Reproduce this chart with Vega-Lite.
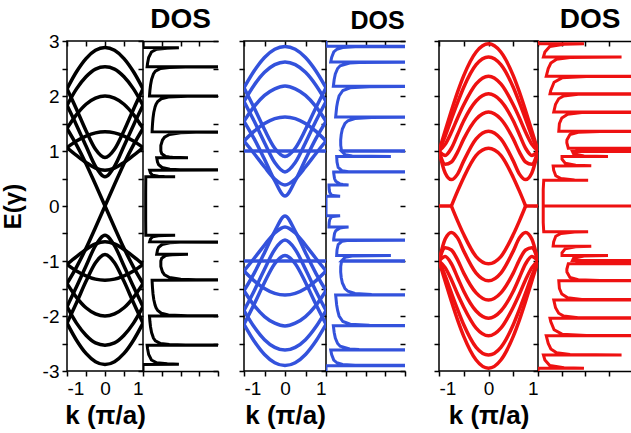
{
"$schema": "https://vega.github.io/schema/vega-lite/v6.json",
"padding": {"left": 0, "right": 0, "top": 6, "bottom": 0},
"config": {
  "font": "Liberation Sans",
  "view": {"stroke": "#000", "strokeWidth": 1.5},
  "axis": {"domain": false, "grid": false, "tickColor": "#000", "tickWidth": 1.5, "labelColor": "#000", "labelFont": "Liberation Sans", "labelFontSize": 19, "titleColor": "#000", "titleFont": "Liberation Sans"},
  "title": {"font": "Liberation Sans", "color": "#000"}
},
"datasets": {
"b1": [
{"b":"1","k":-1,"E":2.13},{"b":"1","k":-0.75,"E":2.44},{"b":"1","k":-0.5,"E":2.68},{"b":"1","k":-0.25,"E":2.83},{"b":"1","k":0,"E":2.88},{"b":"1","k":0.25,"E":2.83},{"b":"1","k":0.5,"E":2.68},{"b":"1","k":0.75,"E":2.44},{"b":"1","k":1,"E":2.13},
{"b":"2","k":-1,"E":2.13},{"b":"2","k":-0.75,"E":1.76},{"b":"2","k":-0.5,"E":1.37},{"b":"2","k":-0.25,"E":1.03},{"b":"2","k":0,"E":0.88},{"b":"2","k":0.25,"E":1.03},{"b":"2","k":0.5,"E":1.37},{"b":"2","k":0.75,"E":1.76},{"b":"2","k":1,"E":2.13},
{"b":"3","k":-1,"E":1.83},{"b":"3","k":-0.75,"E":2.13},{"b":"3","k":-0.5,"E":2.35},{"b":"3","k":-0.25,"E":2.49},{"b":"3","k":0,"E":2.53},{"b":"3","k":0.25,"E":2.49},{"b":"3","k":0.5,"E":2.35},{"b":"3","k":0.75,"E":2.13},{"b":"3","k":1,"E":1.83},
{"b":"4","k":-1,"E":1.83},{"b":"4","k":-0.75,"E":1.47},{"b":"4","k":-0.5,"E":1.09},{"b":"4","k":-0.25,"E":0.72},{"b":"4","k":0,"E":0.53},{"b":"4","k":0.25,"E":0.72},{"b":"4","k":0.5,"E":1.09},{"b":"4","k":0.75,"E":1.47},{"b":"4","k":1,"E":1.83},
{"b":"5","k":-1,"E":1.41},{"b":"5","k":-0.75,"E":1.66},{"b":"5","k":-0.5,"E":1.85},{"b":"5","k":-0.25,"E":1.96},{"b":"5","k":0,"E":2.0},{"b":"5","k":0.25,"E":1.96},{"b":"5","k":0.5,"E":1.85},{"b":"5","k":0.75,"E":1.66},{"b":"5","k":1,"E":1.41},
{"b":"6a","k":-1,"E":1.41},{"b":"6a","k":-0.75,"E":1.11},{"b":"6a","k":-0.5,"E":0.77},{"b":"6a","k":-0.25,"E":0.39},{"b":"6a","k":0,"E":0},
{"b":"6b","k":0,"E":0},{"b":"6b","k":0.25,"E":0.39},{"b":"6b","k":0.5,"E":0.77},{"b":"6b","k":0.75,"E":1.11},{"b":"6b","k":1,"E":1.41},
{"b":"7","k":-1,"E":1.06},{"b":"7","k":-0.75,"E":1.18},{"b":"7","k":-0.5,"E":1.27},{"b":"7","k":-0.25,"E":1.33},{"b":"7","k":0,"E":1.35},{"b":"7","k":0.25,"E":1.33},{"b":"7","k":0.5,"E":1.27},{"b":"7","k":0.75,"E":1.18},{"b":"7","k":1,"E":1.06},
{"b":"8","k":-1,"E":1.06},{"b":"8","k":-0.75,"E":0.92},{"b":"8","k":-0.5,"E":0.79},{"b":"8","k":-0.25,"E":0.69},{"b":"8","k":0,"E":0.65},{"b":"8","k":0.25,"E":0.69},{"b":"8","k":0.5,"E":0.79},{"b":"8","k":0.75,"E":0.92},{"b":"8","k":1,"E":1.06},
{"b":"m1","k":-1,"E":-2.13},{"b":"m1","k":-0.75,"E":-2.44},{"b":"m1","k":-0.5,"E":-2.68},{"b":"m1","k":-0.25,"E":-2.83},{"b":"m1","k":0,"E":-2.88},{"b":"m1","k":0.25,"E":-2.83},{"b":"m1","k":0.5,"E":-2.68},{"b":"m1","k":0.75,"E":-2.44},{"b":"m1","k":1,"E":-2.13},
{"b":"m2","k":-1,"E":-2.13},{"b":"m2","k":-0.75,"E":-1.76},{"b":"m2","k":-0.5,"E":-1.37},{"b":"m2","k":-0.25,"E":-1.03},{"b":"m2","k":0,"E":-0.88},{"b":"m2","k":0.25,"E":-1.03},{"b":"m2","k":0.5,"E":-1.37},{"b":"m2","k":0.75,"E":-1.76},{"b":"m2","k":1,"E":-2.13},
{"b":"m3","k":-1,"E":-1.83},{"b":"m3","k":-0.75,"E":-2.13},{"b":"m3","k":-0.5,"E":-2.35},{"b":"m3","k":-0.25,"E":-2.49},{"b":"m3","k":0,"E":-2.53},{"b":"m3","k":0.25,"E":-2.49},{"b":"m3","k":0.5,"E":-2.35},{"b":"m3","k":0.75,"E":-2.13},{"b":"m3","k":1,"E":-1.83},
{"b":"m4","k":-1,"E":-1.83},{"b":"m4","k":-0.75,"E":-1.47},{"b":"m4","k":-0.5,"E":-1.09},{"b":"m4","k":-0.25,"E":-0.72},{"b":"m4","k":0,"E":-0.53},{"b":"m4","k":0.25,"E":-0.72},{"b":"m4","k":0.5,"E":-1.09},{"b":"m4","k":0.75,"E":-1.47},{"b":"m4","k":1,"E":-1.83},
{"b":"m5","k":-1,"E":-1.41},{"b":"m5","k":-0.75,"E":-1.66},{"b":"m5","k":-0.5,"E":-1.85},{"b":"m5","k":-0.25,"E":-1.96},{"b":"m5","k":0,"E":-2.0},{"b":"m5","k":0.25,"E":-1.96},{"b":"m5","k":0.5,"E":-1.85},{"b":"m5","k":0.75,"E":-1.66},{"b":"m5","k":1,"E":-1.41},
{"b":"m6a","k":-1,"E":-1.41},{"b":"m6a","k":-0.75,"E":-1.11},{"b":"m6a","k":-0.5,"E":-0.77},{"b":"m6a","k":-0.25,"E":-0.39},{"b":"m6a","k":0,"E":0},
{"b":"m6b","k":0,"E":0},{"b":"m6b","k":0.25,"E":-0.39},{"b":"m6b","k":0.5,"E":-0.77},{"b":"m6b","k":0.75,"E":-1.11},{"b":"m6b","k":1,"E":-1.41},
{"b":"m7","k":-1,"E":-1.06},{"b":"m7","k":-0.75,"E":-1.18},{"b":"m7","k":-0.5,"E":-1.27},{"b":"m7","k":-0.25,"E":-1.33},{"b":"m7","k":0,"E":-1.35},{"b":"m7","k":0.25,"E":-1.33},{"b":"m7","k":0.5,"E":-1.27},{"b":"m7","k":0.75,"E":-1.18},{"b":"m7","k":1,"E":-1.06},
{"b":"m8","k":-1,"E":-1.06},{"b":"m8","k":-0.75,"E":-0.92},{"b":"m8","k":-0.5,"E":-0.79},{"b":"m8","k":-0.25,"E":-0.69},{"b":"m8","k":0,"E":-0.65},{"b":"m8","k":0.25,"E":-0.69},{"b":"m8","k":0.5,"E":-0.79},{"b":"m8","k":0.75,"E":-0.92},{"b":"m8","k":1,"E":-1.06}
],
"b2": [
{"b":"1","k":-1,"E":2.15},{"b":"1","k":-0.75,"E":2.46},{"b":"1","k":-0.5,"E":2.7},{"b":"1","k":-0.25,"E":2.85},{"b":"1","k":0,"E":2.9},{"b":"1","k":0.25,"E":2.85},{"b":"1","k":0.5,"E":2.7},{"b":"1","k":0.75,"E":2.46},{"b":"1","k":1,"E":2.15},
{"b":"2","k":-1,"E":2.15},{"b":"2","k":-0.75,"E":1.78},{"b":"2","k":-0.5,"E":1.39},{"b":"2","k":-0.25,"E":1.05},{"b":"2","k":0,"E":0.9},{"b":"2","k":0.25,"E":1.05},{"b":"2","k":0.5,"E":1.39},{"b":"2","k":0.75,"E":1.78},{"b":"2","k":1,"E":2.15},
{"b":"3","k":-1,"E":1.9},{"b":"3","k":-0.75,"E":2.2},{"b":"3","k":-0.5,"E":2.43},{"b":"3","k":-0.25,"E":2.57},{"b":"3","k":0,"E":2.62},{"b":"3","k":0.25,"E":2.57},{"b":"3","k":0.5,"E":2.43},{"b":"3","k":0.75,"E":2.2},{"b":"3","k":1,"E":1.9},
{"b":"4","k":-1,"E":1.9},{"b":"4","k":-0.75,"E":1.54},{"b":"4","k":-0.5,"E":1.15},{"b":"4","k":-0.25,"E":0.79},{"b":"4","k":0,"E":0.62},{"b":"4","k":0.25,"E":0.79},{"b":"4","k":0.5,"E":1.15},{"b":"4","k":0.75,"E":1.54},{"b":"4","k":1,"E":1.9},
{"b":"5","k":-1,"E":1.54},{"b":"5","k":-0.75,"E":1.81},{"b":"5","k":-0.5,"E":2.01},{"b":"5","k":-0.25,"E":2.13},{"b":"5","k":0,"E":2.18},{"b":"5","k":0.25,"E":2.13},{"b":"5","k":0.5,"E":2.01},{"b":"5","k":0.75,"E":1.81},{"b":"5","k":1,"E":1.54},
{"b":"6","k":-1,"E":1.54},{"b":"6","k":-0.75,"E":1.22},{"b":"6","k":-0.5,"E":0.85},{"b":"6","k":-0.25,"E":0.46},{"b":"6","k":0,"E":0.18},{"b":"6","k":0.25,"E":0.46},{"b":"6","k":0.5,"E":0.85},{"b":"6","k":0.75,"E":1.22},{"b":"6","k":1,"E":1.54},
{"b":"7","k":-1,"E":1.18},{"b":"7","k":-0.75,"E":1.36},{"b":"7","k":-0.5,"E":1.5},{"b":"7","k":-0.25,"E":1.59},{"b":"7","k":0,"E":1.62},{"b":"7","k":0.25,"E":1.59},{"b":"7","k":0.5,"E":1.5},{"b":"7","k":0.75,"E":1.36},{"b":"7","k":1,"E":1.18},
{"b":"8","k":-1,"E":1.18},{"b":"8","k":-0.75,"E":0.95},{"b":"8","k":-0.5,"E":0.71},{"b":"8","k":-0.25,"E":0.49},{"b":"8","k":0,"E":0.38},{"b":"8","k":0.25,"E":0.49},{"b":"8","k":0.5,"E":0.71},{"b":"8","k":0.75,"E":0.95},{"b":"8","k":1,"E":1.18},
{"b":"9","k":-1,"E":1},{"b":"9","k":1,"E":1},
{"b":"m1","k":-1,"E":-2.15},{"b":"m1","k":-0.75,"E":-2.46},{"b":"m1","k":-0.5,"E":-2.7},{"b":"m1","k":-0.25,"E":-2.85},{"b":"m1","k":0,"E":-2.9},{"b":"m1","k":0.25,"E":-2.85},{"b":"m1","k":0.5,"E":-2.7},{"b":"m1","k":0.75,"E":-2.46},{"b":"m1","k":1,"E":-2.15},
{"b":"m2","k":-1,"E":-2.15},{"b":"m2","k":-0.75,"E":-1.78},{"b":"m2","k":-0.5,"E":-1.39},{"b":"m2","k":-0.25,"E":-1.05},{"b":"m2","k":0,"E":-0.9},{"b":"m2","k":0.25,"E":-1.05},{"b":"m2","k":0.5,"E":-1.39},{"b":"m2","k":0.75,"E":-1.78},{"b":"m2","k":1,"E":-2.15},
{"b":"m3","k":-1,"E":-1.9},{"b":"m3","k":-0.75,"E":-2.2},{"b":"m3","k":-0.5,"E":-2.43},{"b":"m3","k":-0.25,"E":-2.57},{"b":"m3","k":0,"E":-2.62},{"b":"m3","k":0.25,"E":-2.57},{"b":"m3","k":0.5,"E":-2.43},{"b":"m3","k":0.75,"E":-2.2},{"b":"m3","k":1,"E":-1.9},
{"b":"m4","k":-1,"E":-1.9},{"b":"m4","k":-0.75,"E":-1.54},{"b":"m4","k":-0.5,"E":-1.15},{"b":"m4","k":-0.25,"E":-0.79},{"b":"m4","k":0,"E":-0.62},{"b":"m4","k":0.25,"E":-0.79},{"b":"m4","k":0.5,"E":-1.15},{"b":"m4","k":0.75,"E":-1.54},{"b":"m4","k":1,"E":-1.9},
{"b":"m5","k":-1,"E":-1.54},{"b":"m5","k":-0.75,"E":-1.81},{"b":"m5","k":-0.5,"E":-2.01},{"b":"m5","k":-0.25,"E":-2.13},{"b":"m5","k":0,"E":-2.18},{"b":"m5","k":0.25,"E":-2.13},{"b":"m5","k":0.5,"E":-2.01},{"b":"m5","k":0.75,"E":-1.81},{"b":"m5","k":1,"E":-1.54},
{"b":"m6","k":-1,"E":-1.54},{"b":"m6","k":-0.75,"E":-1.22},{"b":"m6","k":-0.5,"E":-0.85},{"b":"m6","k":-0.25,"E":-0.46},{"b":"m6","k":0,"E":-0.18},{"b":"m6","k":0.25,"E":-0.46},{"b":"m6","k":0.5,"E":-0.85},{"b":"m6","k":0.75,"E":-1.22},{"b":"m6","k":1,"E":-1.54},
{"b":"m7","k":-1,"E":-1.18},{"b":"m7","k":-0.75,"E":-1.36},{"b":"m7","k":-0.5,"E":-1.5},{"b":"m7","k":-0.25,"E":-1.59},{"b":"m7","k":0,"E":-1.62},{"b":"m7","k":0.25,"E":-1.59},{"b":"m7","k":0.5,"E":-1.5},{"b":"m7","k":0.75,"E":-1.36},{"b":"m7","k":1,"E":-1.18},
{"b":"m8","k":-1,"E":-1.18},{"b":"m8","k":-0.75,"E":-0.95},{"b":"m8","k":-0.5,"E":-0.71},{"b":"m8","k":-0.25,"E":-0.49},{"b":"m8","k":0,"E":-0.38},{"b":"m8","k":0.25,"E":-0.49},{"b":"m8","k":0.5,"E":-0.71},{"b":"m8","k":0.75,"E":-0.95},{"b":"m8","k":1,"E":-1.18},
{"b":"m9","k":-1,"E":-1},{"b":"m9","k":1,"E":-1}
],
"b3": [
{"b":"1","k":-1,"E":1},{"b":"1","k":-0.875,"E":1.37},{"b":"1","k":-0.75,"E":1.73},{"b":"1","k":-0.625,"E":2.07},{"b":"1","k":-0.5,"E":2.37},{"b":"1","k":-0.25,"E":2.8},{"b":"1","k":0,"E":2.95},{"b":"1","k":0.25,"E":2.8},{"b":"1","k":0.5,"E":2.37},{"b":"1","k":0.625,"E":2.07},{"b":"1","k":0.75,"E":1.73},{"b":"1","k":0.875,"E":1.37},{"b":"1","k":1,"E":1},
{"b":"2","k":-1,"E":1},{"b":"2","k":-0.875,"E":1.27},{"b":"2","k":-0.75,"E":1.58},{"b":"2","k":-0.625,"E":1.88},{"b":"2","k":-0.5,"E":2.16},{"b":"2","k":-0.25,"E":2.57},{"b":"2","k":0,"E":2.71},{"b":"2","k":0.25,"E":2.57},{"b":"2","k":0.5,"E":2.16},{"b":"2","k":0.625,"E":1.88},{"b":"2","k":0.75,"E":1.58},{"b":"2","k":0.875,"E":1.27},{"b":"2","k":1,"E":1},
{"b":"3","k":-1,"E":1},{"b":"3","k":-0.875,"E":1.12},{"b":"3","k":-0.75,"E":1.34},{"b":"3","k":-0.625,"E":1.6},{"b":"3","k":-0.5,"E":1.84},{"b":"3","k":-0.25,"E":2.22},{"b":"3","k":0,"E":2.36},{"b":"3","k":0.25,"E":2.22},{"b":"3","k":0.5,"E":1.84},{"b":"3","k":0.625,"E":1.6},{"b":"3","k":0.75,"E":1.34},{"b":"3","k":0.875,"E":1.12},{"b":"3","k":1,"E":1},
{"b":"4","k":-1,"E":1},{"b":"4","k":-0.875,"E":0.92},{"b":"4","k":-0.75,"E":1.05},{"b":"4","k":-0.625,"E":1.3},{"b":"4","k":-0.5,"E":1.55},{"b":"4","k":-0.25,"E":1.91},{"b":"4","k":0,"E":2.04},{"b":"4","k":0.25,"E":1.91},{"b":"4","k":0.5,"E":1.55},{"b":"4","k":0.625,"E":1.3},{"b":"4","k":0.75,"E":1.05},{"b":"4","k":0.875,"E":0.92},{"b":"4","k":1,"E":1},
{"b":"5","k":-1,"E":1},{"b":"5","k":-0.875,"E":0.76},{"b":"5","k":-0.75,"E":0.8},{"b":"5","k":-0.625,"E":0.98},{"b":"5","k":-0.5,"E":1.22},{"b":"5","k":-0.25,"E":1.58},{"b":"5","k":0,"E":1.71},{"b":"5","k":0.25,"E":1.58},{"b":"5","k":0.5,"E":1.22},{"b":"5","k":0.625,"E":0.98},{"b":"5","k":0.75,"E":0.8},{"b":"5","k":0.875,"E":0.76},{"b":"5","k":1,"E":1},
{"b":"6","k":-1,"E":1},{"b":"6","k":-0.875,"E":0.6},{"b":"6","k":-0.75,"E":0.48},{"b":"6","k":-0.625,"E":0.58},{"b":"6","k":-0.5,"E":0.82},{"b":"6","k":-0.25,"E":1.22},{"b":"6","k":0,"E":1.36},{"b":"6","k":0.25,"E":1.22},{"b":"6","k":0.5,"E":0.82},{"b":"6","k":0.625,"E":0.58},{"b":"6","k":0.75,"E":0.48},{"b":"6","k":0.875,"E":0.6},{"b":"6","k":1,"E":1},
{"b":"e","k":-0.75,"E":0},{"b":"e","k":-0.625,"E":0.27},{"b":"e","k":-0.5,"E":0.52},{"b":"e","k":-0.25,"E":0.92},{"b":"e","k":0,"E":1.05},{"b":"e","k":0.25,"E":0.92},{"b":"e","k":0.5,"E":0.52},{"b":"e","k":0.625,"E":0.27},{"b":"e","k":0.75,"E":0},
{"b":"fL","k":-1,"E":0},{"b":"fL","k":-0.75,"E":0},
{"b":"fR","k":0.75,"E":0},{"b":"fR","k":1,"E":0},
{"b":"m1","k":-1,"E":-1},{"b":"m1","k":-0.875,"E":-1.37},{"b":"m1","k":-0.75,"E":-1.73},{"b":"m1","k":-0.625,"E":-2.07},{"b":"m1","k":-0.5,"E":-2.37},{"b":"m1","k":-0.25,"E":-2.8},{"b":"m1","k":0,"E":-2.95},{"b":"m1","k":0.25,"E":-2.8},{"b":"m1","k":0.5,"E":-2.37},{"b":"m1","k":0.625,"E":-2.07},{"b":"m1","k":0.75,"E":-1.73},{"b":"m1","k":0.875,"E":-1.37},{"b":"m1","k":1,"E":-1},
{"b":"m2","k":-1,"E":-1},{"b":"m2","k":-0.875,"E":-1.27},{"b":"m2","k":-0.75,"E":-1.58},{"b":"m2","k":-0.625,"E":-1.88},{"b":"m2","k":-0.5,"E":-2.16},{"b":"m2","k":-0.25,"E":-2.57},{"b":"m2","k":0,"E":-2.71},{"b":"m2","k":0.25,"E":-2.57},{"b":"m2","k":0.5,"E":-2.16},{"b":"m2","k":0.625,"E":-1.88},{"b":"m2","k":0.75,"E":-1.58},{"b":"m2","k":0.875,"E":-1.27},{"b":"m2","k":1,"E":-1},
{"b":"m3","k":-1,"E":-1},{"b":"m3","k":-0.875,"E":-1.12},{"b":"m3","k":-0.75,"E":-1.34},{"b":"m3","k":-0.625,"E":-1.6},{"b":"m3","k":-0.5,"E":-1.84},{"b":"m3","k":-0.25,"E":-2.22},{"b":"m3","k":0,"E":-2.36},{"b":"m3","k":0.25,"E":-2.22},{"b":"m3","k":0.5,"E":-1.84},{"b":"m3","k":0.625,"E":-1.6},{"b":"m3","k":0.75,"E":-1.34},{"b":"m3","k":0.875,"E":-1.12},{"b":"m3","k":1,"E":-1},
{"b":"m4","k":-1,"E":-1},{"b":"m4","k":-0.875,"E":-0.92},{"b":"m4","k":-0.75,"E":-1.05},{"b":"m4","k":-0.625,"E":-1.3},{"b":"m4","k":-0.5,"E":-1.55},{"b":"m4","k":-0.25,"E":-1.91},{"b":"m4","k":0,"E":-2.04},{"b":"m4","k":0.25,"E":-1.91},{"b":"m4","k":0.5,"E":-1.55},{"b":"m4","k":0.625,"E":-1.3},{"b":"m4","k":0.75,"E":-1.05},{"b":"m4","k":0.875,"E":-0.92},{"b":"m4","k":1,"E":-1},
{"b":"m5","k":-1,"E":-1},{"b":"m5","k":-0.875,"E":-0.76},{"b":"m5","k":-0.75,"E":-0.8},{"b":"m5","k":-0.625,"E":-0.98},{"b":"m5","k":-0.5,"E":-1.22},{"b":"m5","k":-0.25,"E":-1.58},{"b":"m5","k":0,"E":-1.71},{"b":"m5","k":0.25,"E":-1.58},{"b":"m5","k":0.5,"E":-1.22},{"b":"m5","k":0.625,"E":-0.98},{"b":"m5","k":0.75,"E":-0.8},{"b":"m5","k":0.875,"E":-0.76},{"b":"m5","k":1,"E":-1},
{"b":"m6","k":-1,"E":-1},{"b":"m6","k":-0.875,"E":-0.6},{"b":"m6","k":-0.75,"E":-0.48},{"b":"m6","k":-0.625,"E":-0.58},{"b":"m6","k":-0.5,"E":-0.82},{"b":"m6","k":-0.25,"E":-1.22},{"b":"m6","k":0,"E":-1.36},{"b":"m6","k":0.25,"E":-1.22},{"b":"m6","k":0.5,"E":-0.82},{"b":"m6","k":0.625,"E":-0.58},{"b":"m6","k":0.75,"E":-0.48},{"b":"m6","k":0.875,"E":-0.6},{"b":"m6","k":1,"E":-1},
{"b":"me","k":-0.75,"E":0},{"b":"me","k":-0.625,"E":-0.27},{"b":"me","k":-0.5,"E":-0.52},{"b":"me","k":-0.25,"E":-0.92},{"b":"me","k":0,"E":-1.05},{"b":"me","k":0.25,"E":-0.92},{"b":"me","k":0.5,"E":-0.52},{"b":"me","k":0.625,"E":-0.27},{"b":"me","k":0.75,"E":0}
],
"d1": [
{"E":0,"D":0.5},
{"E":0.25,"D":0.5},{"E":0.52,"D":0.52},{"E":0.531,"D":0.52},{"E":0.532,"D":6},{"E":0.535,"D":4},{"E":0.54,"D":2.86},{"E":0.56,"D":1.81},{"E":0.6,"D":1.4},{"E":0.652,"D":1.24},{"E":0.653,"D":40},{"E":0.66,"D":6.93},{"E":0.67,"D":5.01},{"E":0.7,"D":3.57},{"E":0.75,"D":2.93},{"E":0.8,"D":2.71},{"E":0.878,"D":2.56},{"E":0.879,"D":8.4},{"E":0.885,"D":5.5},{"E":0.89,"D":4.92},{"E":0.9,"D":4.25},{"E":0.95,"D":3.5},{"E":1,"D":3.33},{"E":1.1,"D":3.33},{"E":1.2,"D":3.64},{"E":1.25,"D":4.02},{"E":1.3,"D":4.96},{"E":1.33,"D":7.04},{"E":1.34,"D":9.9},{"E":1.347,"D":40},{"E":1.348,"D":1.7},{"E":1.4,"D":1.72},{"E":1.5,"D":1.78},{"E":1.6,"D":1.87},{"E":1.7,"D":2.01},{"E":1.8,"D":2.25},{"E":1.85,"D":2.44},{"E":1.9,"D":2.75},{"E":1.95,"D":3.43},{"E":1.98,"D":4.75},{"E":1.995,"D":8.3},{"E":2,"D":40},{"E":2.001,"D":1.21},{"E":2.1,"D":1.29},{"E":2.2,"D":1.41},{"E":2.3,"D":1.6},{"E":2.4,"D":1.95},{"E":2.45,"D":2.31},{"E":2.5,"D":3.3},{"E":2.52,"D":4.91},{"E":2.528,"D":7.97},{"E":2.532,"D":40},{"E":2.533,"D":0.77},{"E":2.6,"D":0.86},{"E":2.7,"D":1.06},{"E":2.8,"D":1.57},{"E":2.85,"D":2.56},{"E":2.87,"D":4.53},{"E":2.879,"D":6.7},{"E":2.88,"D":0},{"E":3,"D":0},
{"E":-0.25,"D":0.5},{"E":-0.52,"D":0.52},{"E":-0.531,"D":0.52},{"E":-0.532,"D":6},{"E":-0.535,"D":4},{"E":-0.54,"D":2.86},{"E":-0.56,"D":1.81},{"E":-0.6,"D":1.4},{"E":-0.652,"D":1.24},{"E":-0.653,"D":40},{"E":-0.66,"D":6.93},{"E":-0.67,"D":5.01},{"E":-0.7,"D":3.57},{"E":-0.75,"D":2.93},{"E":-0.8,"D":2.71},{"E":-0.878,"D":2.56},{"E":-0.879,"D":8.4},{"E":-0.885,"D":5.5},{"E":-0.89,"D":4.92},{"E":-0.9,"D":4.25},{"E":-0.95,"D":3.5},{"E":-1,"D":3.33},{"E":-1.1,"D":3.33},{"E":-1.2,"D":3.64},{"E":-1.25,"D":4.02},{"E":-1.3,"D":4.96},{"E":-1.33,"D":7.04},{"E":-1.34,"D":9.9},{"E":-1.347,"D":40},{"E":-1.348,"D":1.7},{"E":-1.4,"D":1.72},{"E":-1.5,"D":1.78},{"E":-1.6,"D":1.87},{"E":-1.7,"D":2.01},{"E":-1.8,"D":2.25},{"E":-1.85,"D":2.44},{"E":-1.9,"D":2.75},{"E":-1.95,"D":3.43},{"E":-1.98,"D":4.75},{"E":-1.995,"D":8.3},{"E":-2,"D":40},{"E":-2.001,"D":1.21},{"E":-2.1,"D":1.29},{"E":-2.2,"D":1.41},{"E":-2.3,"D":1.6},{"E":-2.4,"D":1.95},{"E":-2.45,"D":2.31},{"E":-2.5,"D":3.3},{"E":-2.52,"D":4.91},{"E":-2.528,"D":7.97},{"E":-2.532,"D":40},{"E":-2.533,"D":0.77},{"E":-2.6,"D":0.86},{"E":-2.7,"D":1.06},{"E":-2.8,"D":1.57},{"E":-2.85,"D":2.56},{"E":-2.87,"D":4.53},{"E":-2.879,"D":6.7},{"E":-2.88,"D":0},{"E":-3,"D":0}
],
"d2": [
{"E":0,"D":0},
{"E":0.175,"D":0},{"E":0.176,"D":2.5},{"E":0.18,"D":2.09},{"E":0.19,"D":1.21},{"E":0.2,"D":0.96},{"E":0.25,"D":0.65},{"E":0.3,"D":0.57},{"E":0.35,"D":0.54},{"E":0.381,"D":0.53},{"E":0.382,"D":4},{"E":0.39,"D":3.0},{"E":0.4,"D":2.5},{"E":0.45,"D":1.73},{"E":0.5,"D":1.51},{"E":0.6,"D":1.36},{"E":0.617,"D":1.36},{"E":0.618,"D":40},{"E":0.625,"D":4},{"E":0.64,"D":2.87},{"E":0.7,"D":2.16},{"E":0.8,"D":1.95},{"E":0.901,"D":1.89},{"E":0.902,"D":11.5},{"E":0.91,"D":4.65},{"E":0.93,"D":3.4},{"E":0.995,"D":2.79},{"E":1,"D":40},{"E":1.005,"D":2.75},{"E":1.1,"D":2.61},{"E":1.2,"D":2.6},{"E":1.3,"D":2.7},{"E":1.4,"D":2.9},{"E":1.5,"D":3.36},{"E":1.55,"D":3.89},{"E":1.59,"D":5.13},{"E":1.61,"D":8.08},{"E":1.618,"D":40},{"E":1.619,"D":1.71},{"E":1.8,"D":1.89},{"E":1.9,"D":2.06},{"E":2,"D":2.32},{"E":2.1,"D":2.99},{"E":2.15,"D":4.29},{"E":2.17,"D":7.69},{"E":2.176,"D":40},{"E":2.177,"D":1.3},{"E":2.3,"D":1.45},{"E":2.4,"D":1.65},{"E":2.5,"D":2.06},{"E":2.55,"D":2.51},{"E":2.6,"D":4.19},{"E":2.61,"D":5.87},{"E":2.618,"D":40},{"E":2.619,"D":0.84},{"E":2.7,"D":1},{"E":2.8,"D":1.38},{"E":2.85,"D":1.93},{"E":2.88,"D":2.94},{"E":2.895,"D":5.18},{"E":2.902,"D":40},{"E":2.903,"D":0},{"E":3,"D":0},
{"E":-0.175,"D":0},{"E":-0.176,"D":2.5},{"E":-0.18,"D":2.09},{"E":-0.19,"D":1.21},{"E":-0.2,"D":0.96},{"E":-0.25,"D":0.65},{"E":-0.3,"D":0.57},{"E":-0.35,"D":0.54},{"E":-0.381,"D":0.53},{"E":-0.382,"D":4},{"E":-0.39,"D":3.0},{"E":-0.4,"D":2.5},{"E":-0.45,"D":1.73},{"E":-0.5,"D":1.51},{"E":-0.6,"D":1.36},{"E":-0.617,"D":1.36},{"E":-0.618,"D":40},{"E":-0.625,"D":4},{"E":-0.64,"D":2.87},{"E":-0.7,"D":2.16},{"E":-0.8,"D":1.95},{"E":-0.901,"D":1.89},{"E":-0.902,"D":11.5},{"E":-0.91,"D":4.65},{"E":-0.93,"D":3.4},{"E":-0.995,"D":2.79},{"E":-1,"D":40},{"E":-1.005,"D":2.75},{"E":-1.1,"D":2.61},{"E":-1.2,"D":2.6},{"E":-1.3,"D":2.7},{"E":-1.4,"D":2.9},{"E":-1.5,"D":3.36},{"E":-1.55,"D":3.89},{"E":-1.59,"D":5.13},{"E":-1.61,"D":8.08},{"E":-1.618,"D":40},{"E":-1.619,"D":1.71},{"E":-1.8,"D":1.89},{"E":-1.9,"D":2.06},{"E":-2,"D":2.32},{"E":-2.1,"D":2.99},{"E":-2.15,"D":4.29},{"E":-2.17,"D":7.69},{"E":-2.176,"D":40},{"E":-2.177,"D":1.3},{"E":-2.3,"D":1.45},{"E":-2.4,"D":1.65},{"E":-2.5,"D":2.06},{"E":-2.55,"D":2.51},{"E":-2.6,"D":4.19},{"E":-2.61,"D":5.87},{"E":-2.618,"D":40},{"E":-2.619,"D":0.84},{"E":-2.7,"D":1},{"E":-2.8,"D":1.38},{"E":-2.85,"D":1.93},{"E":-2.88,"D":2.94},{"E":-2.895,"D":5.18},{"E":-2.902,"D":40},{"E":-2.903,"D":0},{"E":-3,"D":0}
],
"d3": [
{"E":0,"D":40},
{"E":0.001,"D":0.5},{"E":0.3,"D":0.5},{"E":0.469,"D":0.55},{"E":0.47,"D":4.8},{"E":0.475,"D":3.5},{"E":0.5,"D":2.2},{"E":0.55,"D":1.7},{"E":0.65,"D":1.5},{"E":0.729,"D":1.45},{"E":0.73,"D":5.1},{"E":0.74,"D":3.6},{"E":0.78,"D":2.6},{"E":0.85,"D":2.3},{"E":0.899,"D":2.3},{"E":0.9,"D":6.7},{"E":0.91,"D":4.4},{"E":0.95,"D":3.4},{"E":0.99,"D":3.3},{"E":1,"D":30},{"E":1.01,"D":3.6},{"E":1.04,"D":4.2},{"E":1.049,"D":6},{"E":1.05,"D":30},{"E":1.051,"D":2.9},{"E":1.15,"D":2.76},{"E":1.2,"D":2.77},{"E":1.3,"D":3.06},{"E":1.34,"D":3.85},{"E":1.355,"D":5.93},{"E":1.36,"D":30},{"E":1.361,"D":1.99},{"E":1.5,"D":2.05},{"E":1.6,"D":2.28},{"E":1.67,"D":2.84},{"E":1.7,"D":4.2},{"E":1.71,"D":30},{"E":1.711,"D":1.51},{"E":1.85,"D":1.68},{"E":1.95,"D":1.98},{"E":2,"D":2.46},{"E":2.03,"D":3.85},{"E":2.04,"D":30},{"E":2.041,"D":1.15},{"E":2.1,"D":1.22},{"E":2.25,"D":1.54},{"E":2.33,"D":2.3},{"E":2.355,"D":4.64},{"E":2.36,"D":30},{"E":2.361,"D":0.79},{"E":2.5,"D":0.98},{"E":2.6,"D":1.23},{"E":2.67,"D":1.78},{"E":2.7,"D":3.07},{"E":2.71,"D":8},{"E":2.711,"D":0.52},{"E":2.8,"D":0.66},{"E":2.9,"D":1.13},{"E":2.94,"D":2.49},{"E":2.95,"D":4.4},{"E":2.951,"D":0},{"E":3,"D":0},
{"E":-0.001,"D":0.5},{"E":-0.3,"D":0.5},{"E":-0.469,"D":0.55},{"E":-0.47,"D":4.8},{"E":-0.475,"D":3.5},{"E":-0.5,"D":2.2},{"E":-0.55,"D":1.7},{"E":-0.65,"D":1.5},{"E":-0.729,"D":1.45},{"E":-0.73,"D":5.1},{"E":-0.74,"D":3.6},{"E":-0.78,"D":2.6},{"E":-0.85,"D":2.3},{"E":-0.899,"D":2.3},{"E":-0.9,"D":6.7},{"E":-0.91,"D":4.4},{"E":-0.95,"D":3.4},{"E":-0.99,"D":3.3},{"E":-1,"D":30},{"E":-1.01,"D":3.6},{"E":-1.04,"D":4.2},{"E":-1.049,"D":6},{"E":-1.05,"D":30},{"E":-1.051,"D":2.9},{"E":-1.15,"D":2.76},{"E":-1.2,"D":2.77},{"E":-1.3,"D":3.06},{"E":-1.34,"D":3.85},{"E":-1.355,"D":5.93},{"E":-1.36,"D":30},{"E":-1.361,"D":1.99},{"E":-1.5,"D":2.05},{"E":-1.6,"D":2.28},{"E":-1.67,"D":2.84},{"E":-1.7,"D":4.2},{"E":-1.71,"D":30},{"E":-1.711,"D":1.51},{"E":-1.85,"D":1.68},{"E":-1.95,"D":1.98},{"E":-2,"D":2.46},{"E":-2.03,"D":3.85},{"E":-2.04,"D":30},{"E":-2.041,"D":1.15},{"E":-2.1,"D":1.22},{"E":-2.25,"D":1.54},{"E":-2.33,"D":2.3},{"E":-2.355,"D":4.64},{"E":-2.36,"D":30},{"E":-2.361,"D":0.79},{"E":-2.5,"D":0.98},{"E":-2.6,"D":1.23},{"E":-2.67,"D":1.78},{"E":-2.7,"D":3.07},{"E":-2.71,"D":8},{"E":-2.711,"D":0.52},{"E":-2.8,"D":0.66},{"E":-2.9,"D":1.13},{"E":-2.94,"D":2.49},{"E":-2.95,"D":4.4},{"E":-2.951,"D":0},{"E":-3,"D":0}
]
},
"bounds": "flush",
"spacing": 0,
"hconcat": [
  {"width": 76, "height": 330,
   "layer": [
    {"data": {"name": "b1"}, "mark": {"type": "line", "interpolate": "monotone", "color": "#000000", "strokeWidth": 3.5, "clip": true},
     "encoding": {
      "x": {"field": "k", "type": "quantitative", "scale": {"domain": [-1, 1], "nice": false, "zero": false},
            "axis": {"orient": "bottom", "values": [-1,-0.5,0,0.5,1], "labelExpr": "datum.value % 1 === 0 ? '' + datum.value : ''", "tickSize": 5, "labelPadding": 3, "title": "k (π/a)", "titleFontSize": 26, "titleFontWeight": "bold", "titlePadding": 4}},
      "y": {"field": "E", "type": "quantitative", "scale": {"domain": [-3, 3], "nice": false, "zero": false},
            "axis": {"orient": "left", "values": [-3,-2.5,-2,-1.5,-1,-0.5,0,0.5,1,1.5,2,2.5,3], "labelExpr": "datum.value % 1 === 0 ? '' + datum.value : ''", "tickSize": 5, "labelPadding": 3, "title": "E(γ)", "titleFontSize": 24, "titleFontWeight": "bold", "titleX": -47, "titleBaseline": "alphabetic"}},
      "detail": {"field": "b", "type": "nominal"}}},
    {"data": {"name": "b1"}, "mark": {"type": "line", "opacity": 0},
     "encoding": {
      "x": {"field": "k", "type": "quantitative", "axis": {"orient": "top", "values": [-1,-0.5,0,0.5,1], "labels": false, "tickSize": -5, "title": null}},
      "y": {"field": "E", "type": "quantitative", "axis": {"orient": "right", "values": [-3,-2.5,-2,-1.5,-1,-0.5,0,0.5,1,1.5,2,2.5,3], "labels": false, "tickSize": -5, "title": null}},
      "detail": {"field": "b", "type": "nominal"}}}
   ],
   "resolve": {"axis": {"x": "independent", "y": "independent"}}},
  {"width": 75, "height": 330, "view": {"stroke": null},
   "title": {"text": "DOS", "fontSize": 28, "fontWeight": "bold", "anchor": "middle", "offset": 6},
   "layer": [
    {"data": {"name": "d1"}, "mark": {"type": "line", "color": "#000000", "strokeWidth": 3, "clip": true},
     "encoding": {
      "x": {"field": "D", "type": "quantitative", "scale": {"domain": [0, 14], "nice": false, "zero": false},
            "axis": {"orient": "bottom", "values": [3.5,7,10.5,14], "labels": false, "domain": true, "domainColor": "#000", "domainWidth": 1.5, "tickSize": 5, "title": null}},
      "y": {"field": "E", "type": "quantitative", "scale": {"domain": [-3, 3], "nice": false, "zero": false},
            "axis": {"orient": "right", "values": [-3,-2.5,-2,-1.5,-1,-0.5,0,0.5,1,1.5,2,2.5,3], "labels": false, "tickSize": -5, "title": null}},
      "order": {"field": "E", "type": "quantitative"}}},
    {"data": {"name": "d1"}, "mark": {"type": "line", "opacity": 0},
     "encoding": {
      "x": {"field": "D", "type": "quantitative", "axis": {"orient": "top", "values": [3.5,7,10.5], "labels": false, "domain": true, "domainColor": "#000", "domainWidth": 1.5, "tickSize": -5, "title": null}},
      "y": {"field": "E", "type": "quantitative", "axis": null},
      "order": {"field": "E", "type": "quantitative"}}}
   ],
   "resolve": {"axis": {"x": "independent", "y": "independent"}}},
  {"width": 26, "height": 330, "view": {"stroke": null}, "data": {"values": [{"t": ""}]}, "mark": {"type": "text", "text": ""}, "encoding": {}},
  {"width": 82, "height": 330,
   "layer": [
    {"data": {"name": "b2"}, "mark": {"type": "line", "interpolate": "monotone", "color": "#3352dc", "strokeWidth": 3.5, "clip": true},
     "encoding": {
      "x": {"field": "k", "type": "quantitative", "scale": {"domain": [-1, 1], "nice": false, "zero": false},
            "axis": {"orient": "bottom", "values": [-1,-0.5,0,0.5,1], "labelExpr": "datum.value % 1 === 0 ? '' + datum.value : ''", "tickSize": 5, "labelPadding": 3, "title": "k (π/a)", "titleFontSize": 26, "titleFontWeight": "bold", "titlePadding": 4}},
      "y": {"field": "E", "type": "quantitative", "scale": {"domain": [-3, 3], "nice": false, "zero": false},
            "axis": {"orient": "left", "values": [-3,-2.5,-2,-1.5,-1,-0.5,0,0.5,1,1.5,2,2.5,3], "labels": false, "tickSize": 5, "title": null}},
      "detail": {"field": "b", "type": "nominal"}}},
    {"data": {"name": "b2"}, "mark": {"type": "line", "opacity": 0},
     "encoding": {
      "x": {"field": "k", "type": "quantitative", "axis": {"orient": "top", "values": [-1,-0.5,0,0.5,1], "labels": false, "tickSize": -5, "title": null}},
      "y": {"field": "E", "type": "quantitative", "axis": {"orient": "right", "values": [-3,-2.5,-2,-1.5,-1,-0.5,0,0.5,1,1.5,2,2.5,3], "labels": false, "tickSize": -5, "title": null}},
      "detail": {"field": "b", "type": "nominal"}}}
   ],
   "resolve": {"axis": {"x": "independent", "y": "independent"}}},
  {"width": 79, "height": 330, "view": {"stroke": null},
   "title": {"text": "DOS", "fontSize": 25, "fontWeight": "bold", "anchor": "middle", "dx": 12, "offset": 6},
   "layer": [
    {"data": {"name": "d2"}, "mark": {"type": "line", "color": "#3352dc", "strokeWidth": 3, "clip": true},
     "encoding": {
      "x": {"field": "D", "type": "quantitative", "scale": {"domain": [0, 14], "nice": false, "zero": false},
            "axis": {"orient": "bottom", "values": [3.5,7,10.5,14], "labels": false, "domain": true, "domainColor": "#000", "domainWidth": 1.5, "tickSize": 5, "title": null}},
      "y": {"field": "E", "type": "quantitative", "scale": {"domain": [-3, 3], "nice": false, "zero": false},
            "axis": {"orient": "right", "values": [-3,-2.5,-2,-1.5,-1,-0.5,0,0.5,1,1.5,2,2.5,3], "labels": false, "tickSize": -5, "title": null}},
      "order": {"field": "E", "type": "quantitative"}}},
    {"data": {"name": "d2"}, "mark": {"type": "line", "opacity": 0},
     "encoding": {
      "x": {"field": "D", "type": "quantitative", "axis": {"orient": "top", "values": [3.5,7,10.5], "labels": false, "domain": true, "domainColor": "#000", "domainWidth": 1.5, "tickSize": -5, "title": null}},
      "y": {"field": "E", "type": "quantitative", "axis": null},
      "order": {"field": "E", "type": "quantitative"}}}
   ],
   "resolve": {"axis": {"x": "independent", "y": "independent"}}},
  {"width": 34, "height": 330, "view": {"stroke": null}, "data": {"values": [{"t": ""}]}, "mark": {"type": "text", "text": ""}, "encoding": {}},
  {"width": 99, "height": 330,
   "layer": [
    {"data": {"name": "b3"}, "mark": {"type": "line", "interpolate": "monotone", "color": "#ee1111", "strokeWidth": 3.5, "clip": true},
     "encoding": {
      "x": {"field": "k", "type": "quantitative", "scale": {"domain": [-1, 1], "nice": false, "zero": false},
            "axis": {"orient": "bottom", "values": [-1,-0.5,0,0.5,1], "labelExpr": "datum.value % 1 === 0 ? '' + datum.value : ''", "tickSize": 5, "labelPadding": 3, "title": "k (π/a)", "titleFontSize": 26, "titleFontWeight": "bold", "titlePadding": 4}},
      "y": {"field": "E", "type": "quantitative", "scale": {"domain": [-3, 3], "nice": false, "zero": false},
            "axis": {"orient": "left", "values": [-3,-2.5,-2,-1.5,-1,-0.5,0,0.5,1,1.5,2,2.5,3], "labels": false, "tickSize": 5, "title": null}},
      "detail": {"field": "b", "type": "nominal"}}},
    {"data": {"name": "b3"}, "mark": {"type": "line", "opacity": 0},
     "encoding": {
      "x": {"field": "k", "type": "quantitative", "axis": {"orient": "top", "values": [-1,-0.5,0,0.5,1], "labels": false, "tickSize": -5, "title": null}},
      "y": {"field": "E", "type": "quantitative", "axis": {"orient": "right", "values": [-3,-2.5,-2,-1.5,-1,-0.5,0,0.5,1,1.5,2,2.5,3], "labels": false, "tickSize": -5, "title": null}},
      "detail": {"field": "b", "type": "nominal"}}}
   ],
   "resolve": {"axis": {"x": "independent", "y": "independent"}}},
  {"width": 94, "height": 330, "view": {"stroke": null},
   "title": {"text": "DOS", "fontSize": 28, "fontWeight": "bold", "anchor": "middle", "dx": 5, "offset": 6},
   "layer": [
    {"data": {"name": "d3"}, "mark": {"type": "line", "color": "#ee1111", "strokeWidth": 3, "clip": true},
     "encoding": {
      "x": {"field": "D", "type": "quantitative", "scale": {"domain": [0, 9], "nice": false, "zero": false},
            "axis": {"orient": "bottom", "values": [2.25,4.5,6.75], "labels": false, "domain": true, "domainColor": "#000", "domainWidth": 1.5, "tickSize": 5, "title": null}},
      "y": {"field": "E", "type": "quantitative", "scale": {"domain": [-3, 3], "nice": false, "zero": false}, "axis": null},
      "order": {"field": "E", "type": "quantitative"}}},
    {"data": {"name": "d3"}, "mark": {"type": "line", "opacity": 0},
     "encoding": {
      "x": {"field": "D", "type": "quantitative", "axis": {"orient": "top", "values": [2.25,4.5,6.75], "labels": false, "domain": true, "domainColor": "#000", "domainWidth": 1.5, "tickSize": -5, "title": null}},
      "y": {"field": "E", "type": "quantitative", "axis": null},
      "order": {"field": "E", "type": "quantitative"}}}
   ],
   "resolve": {"axis": {"x": "independent", "y": "independent"}}}
]
}
